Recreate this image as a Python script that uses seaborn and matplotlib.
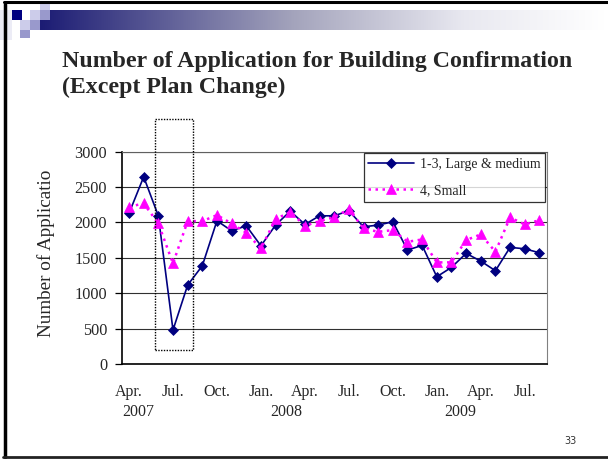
import numpy as np
import pandas as pd
import matplotlib
matplotlib.use("Agg")
import matplotlib.pyplot as plt
import seaborn as sns
from matplotlib.patches import Rectangle
from matplotlib.lines import Line2D
from matplotlib.colors import LinearSegmentedColormap

# ---------------- data ----------------
months = ["Apr", "May", "Jun", "Jul", "Aug", "Sep", "Oct", "Nov", "Dec",
          "Jan", "Feb", "Mar", "Apr", "May", "Jun", "Jul", "Aug", "Sep",
          "Oct", "Nov", "Dec", "Jan", "Feb", "Mar", "Apr", "May", "Jun",
          "Jul", "Aug"]
large_medium = [2130, 2645, 2094, 480, 1115, 1388, 2024, 1882, 1953, 1670,
                1963, 2160, 1972, 2094, 2094, 2165, 1939, 1963, 2010, 1610,
                1676, 1233, 1365, 1563, 1454, 1318, 1648, 1628, 1572]
small = [2221, 2269, 1986, 1421, 2019, 2019, 2104, 1986, 1854, 1633,
         2047, 2150, 1953, 2019, 2075, 2188, 1916, 1868, 1892, 1727,
         1760, 1436, 1436, 1751, 1831, 1586, 2071, 1972, 2033]
month_tick_labels = ["Apr.", "Jul.", "Oct.", "Jan.", "Apr.", "Jul.", "Oct.",
                     "Jan.", "Apr.", "Jul."]
year_labels = ["2007", "2008", "2009"]
series_names = ["1-3, Large & medium", "4, Small"]
title_lines = ["Number of Application for Building Confirmation",
               "(Except Plan Change)"]
y_label = "Number of Applicatio"
page_number = "33"

df = pd.DataFrame({"idx": np.arange(len(months)), "month": months,
                   "large": large_medium, "small": small})

# ---------------- figure ----------------
sns.set_style("white")
plt.rcParams["font.family"] = ["Liberation Serif", "DejaVu Serif"]
W, H = 608, 459
fig = plt.figure(figsize=(W / 100, H / 100), dpi=100)
fig.patch.set_facecolor("white")


def px_rect(x, y, w, h, **kw):
    fig.add_artist(Rectangle((x / W, 1 - (y + h) / H), w / W, h / H,
                             transform=fig.transFigure, **kw))


def px_line(x0, y0, x1, y1, **kw):
    fig.add_artist(Line2D([x0 / W, x1 / W], [1 - y0 / H, 1 - y1 / H],
                          transform=fig.transFigure, **kw))


# slide header gradient bar
gax = fig.add_axes([40 / W, 1 - 30 / H, 565 / W, 20 / H])
cmap = LinearSegmentedColormap.from_list(
    "hdr", [(0, "#1c1c74"), (0.45, "#a4a4bc"), (0.75, "#e8e8f0"), (1, "#ffffff")])
gax.imshow(np.linspace(0, 1, 256)[None, :], aspect="auto", cmap=cmap)
gax.set_axis_off()

# header squares
px_rect(0, 10, 12, 30, color="#ececf6", lw=0)
px_rect(12, 10, 10, 10, color="#000080", lw=0)
px_rect(30, 10, 10, 10, color="#ccccea", lw=0)
px_rect(40, 2, 10, 8, color="#ccccea", lw=0)
px_rect(40, 10, 10, 10, color="#9999cc", lw=0)
px_rect(20, 20, 10, 10, color="#ccccea", lw=0)
px_rect(30, 20, 10, 10, color="#9999cc", lw=0)
px_rect(20, 30, 10, 8, color="#9999cc", lw=0)

# slide frame
px_line(4, 2, 608, 2, color="black", lw=2.2)
px_line(4.5, 4, 4.5, 457, color="black", lw=2.5)
px_line(3, 456.5, 608, 456.5, color="#222222", lw=2)

# title
fig.text(62 / W, 1 - 67 / H, title_lines[0], fontsize=17.2, fontweight="bold",
         ha="left", va="baseline")
fig.text(62 / W, 1 - 93 / H, title_lines[1], fontsize=17.2, fontweight="bold",
         ha="left", va="baseline")

# page number
fig.text(570 / W, 1 - 441 / H, page_number, fontsize=7,
         family=["DejaVu Sans"], color="#333333", ha="center", va="center")

# ---------------- chart ----------------
ax_l, ax_r, ax_t, ax_b = 121.7, 546.7, 151.7, 364.0
ax = fig.add_axes([ax_l / W, 1 - ax_b / H, (ax_r - ax_l) / W, (ax_b - ax_t) / H])

sns.lineplot(data=df, x="idx", y="large", ax=ax, color="#000080", lw=1.2,
             marker="D", markersize=4.6, markeredgecolor="#000080",
             markeredgewidth=0.5, label=series_names[0])
sns.lineplot(data=df, x="idx", y="small", ax=ax, color="#ff00ff", lw=1.8,
             linestyle=(0, (1, 1.8)), marker="^", markersize=7.4,
             markeredgecolor="#ff00ff", markeredgewidth=0.5,
             label=series_names[1])

ax.set_xlim(-0.5, len(months) - 0.5)
ax.set_ylim(0, 3000)
ax.set_yticks(np.arange(0, 3001, 500))
ax.yaxis.grid(True, color="#303030", lw=0.8)
ax.set_axisbelow(True)

ax.set_xticks(np.arange(0, len(months), 3))
ax.set_xticklabels(month_tick_labels)
ax.set_xticks(np.arange(-0.5, len(months), 1), minor=True)
ax.tick_params(axis="x", which="major", length=0, pad=14.5, labelsize=11.5)
ax.tick_params(axis="x", which="minor", direction="in", length=5,
               width=0.9, color="black")
ax.tick_params(axis="y", direction="out", length=5, width=0.9, pad=5.5,
               labelsize=11.7, color="black", left=True)

for s in ["left", "bottom"]:
    ax.spines[s].set_color("black")
    ax.spines[s].set_linewidth(1.2)
ax.spines["top"].set_color("#606060")
ax.spines["top"].set_linewidth(0.8)
ax.spines["right"].set_color("#808080")
ax.spines["right"].set_linewidth(0.8)

ax.set_xlabel("")
ax.set_ylabel(y_label, fontsize=13.8)
ax.yaxis.set_label_coords(-0.158, 0.523)

# year labels (second level of category axis)
for xpos, lab in zip([0.6, 10.75, 22.6], year_labels):
    ax.text(xpos, -0.2247, lab, transform=ax.get_xaxis_transform(),
            ha="center", va="center", fontsize=11.5)

leg = ax.legend(loc="upper right", fontsize=10, frameon=True, fancybox=False,
                edgecolor="black", borderaxespad=0.1, handlelength=3.3,
                labelspacing=0.95, borderpad=0.35, handletextpad=0.4)
leg.get_frame().set_linewidth(0.9)

# dotted highlight box around Jul.-Sep. 2007 (extends above the plot)
px_rect(155, 118.5, 38.5, 231.5, fill=False, ec="black", lw=1,
        ls=(0, (1, 1)))

fig.savefig("out.png", dpi=100, facecolor="white")
